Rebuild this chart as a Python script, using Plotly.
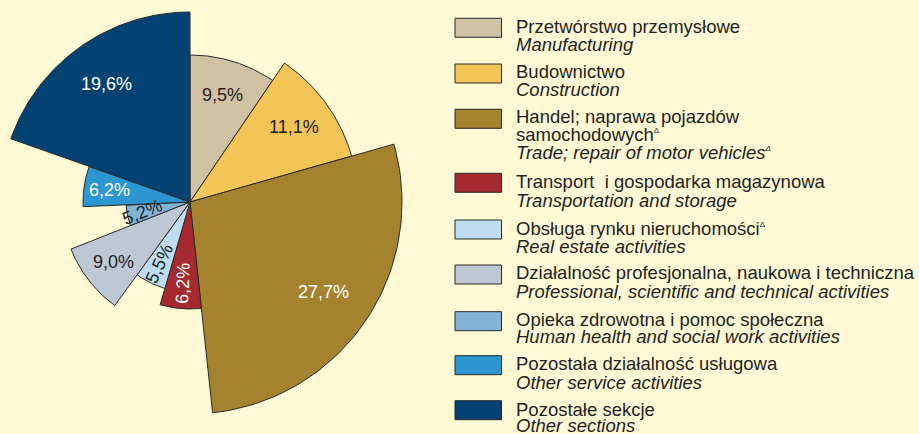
import numpy as np
import plotly.graph_objects as go

# ---- data ----
labels_pl = [
    "Przetwórstwo przemysłowe",
    "Budownictwo",
    "Handel; naprawa pojazdów<br>samochodowych<sup>Δ</sup>",
    "Transport  i gospodarka magazynowa",
    "Obsługa rynku nieruchomości<sup>Δ</sup>",
    "Działalność profesjonalna, naukowa i techniczna",
    "Opieka zdrowotna i pomoc społeczna",
    "Pozostała działalność usługowa",
    "Pozostałe sekcje",
]
labels_en = [
    "Manufacturing",
    "Construction",
    "Trade; repair of motor vehicles<sup>Δ</sup>",
    "Transportation and storage",
    "Real estate activities",
    "Professional, scientific and technical activities",
    "Human health and social work activities",
    "Other service activities",
    "Other sections",
]
shares = [9.5, 11.1, 27.7, 6.2, 5.5, 9.0, 5.2, 6.2, 19.6]
share_text = ["9,5%", "11,1%", "27,7%", "6,2%", "5,5%", "9,0%", "5,2%", "6,2%", "19,6%"]
radius_index = [147, 168, 212, 107, 90, 128, 64, 107, 190]

# ---- style ----
colors = ["#D0C0A4", "#F3C456", "#A5822E", "#A52A30", "#BEDDF0",
          "#BDC8D4", "#82B4D8", "#2B96D0", "#034272"]
label_colors = ["#231F20", "#231F20", "#FFFFFF", "#FFFFFF", "#231F20",
                "#231F20", "#231F20", "#FFFFFF", "#FFFFFF"]
label_angles = [0, 0, 0, -88, -65, 0, -22, 0, 0]
bg = "#FFF9D6"
txt = "#231F20"
W, H = 919, 434
cx, cy = 190, 202  # pie centre in pixels

fig = go.Figure()
total = sum(shares)
start = 0.0
for i, (s, r) in enumerate(zip(shares, radius_index)):
    a0 = start / total * 360
    a1 = (start + s) / total * 360
    start += s
    th = np.radians(np.linspace(a0, a1, 60))
    xs = np.concatenate([[0], r * np.sin(th), [0]])
    ys = np.concatenate([[0], r * np.cos(th), [0]])
    fig.add_trace(go.Scatter(x=xs, y=ys, fill="toself", fillcolor=colors[i],
                             mode="lines", line=dict(color="#2a2a2a", width=1),
                             hoverinfo="skip", showlegend=False))
    am = np.radians((a0 + a1) / 2)
    rl = 0.76 * r
    fig.add_annotation(x=rl * np.sin(am), y=rl * np.cos(am), text=share_text[i],
                       showarrow=False, textangle=label_angles[i],
                       font=dict(family="Liberation Sans, Arial", size=18,
                                 color=label_colors[i]))

# ---- legend (manual) ----
box_tops = [18.3, 64, 109.3, 173.3, 220, 265, 311.7, 355.7, 400.7]
line_centres = [
    [26.2, 44.8], [71.2, 89.5], [116.7, 134.5, 152.8], [181.2, 200.5],
    [228.8, 246.2], [272.2, 291.2], [319, 336.7], [363, 382.5], [409.5, 425.8],
]
for i in range(len(labels_pl)):
    t = box_tops[i]
    fig.add_shape(type="rect", xref="paper", yref="paper",
                  x0=455 / W, x1=501.5 / W, y0=1 - t / H, y1=1 - (t + 19) / H,
                  fillcolor=colors[i], line=dict(color="#2a2a2a", width=1))
    pl_lines = labels_pl[i].split("<br>")
    lines = [(l, False) for l in pl_lines] + [(labels_en[i], True)]
    for (l, ital), yc in zip(lines, line_centres[i]):
        l = l.replace("<sup>Δ</sup>", "<sup><span style='font-size:8px'>Δ</span></sup>")
        fig.add_annotation(xref="paper", yref="paper", x=514 / W, y=1 - yc / H,
                           xanchor="left", yanchor="middle", showarrow=False,
                           text=("<i>%s</i>" % l) if ital else l,
                           font=dict(family="Liberation Sans, Arial", size=18.5, color=txt))

fig.update_layout(
    width=W, height=H, margin=dict(l=0, r=0, t=0, b=0),
    paper_bgcolor=bg, plot_bgcolor=bg,
    xaxis=dict(range=[-cx, W - cx], visible=False, fixedrange=True),
    yaxis=dict(range=[cy - H, cy], visible=False, fixedrange=True),
    showlegend=False,
)
fig.write_html("out.html", config={"displayModeBar": False},
               post_script="document.body.style.margin='0px';document.body.style.overflow='hidden';")
